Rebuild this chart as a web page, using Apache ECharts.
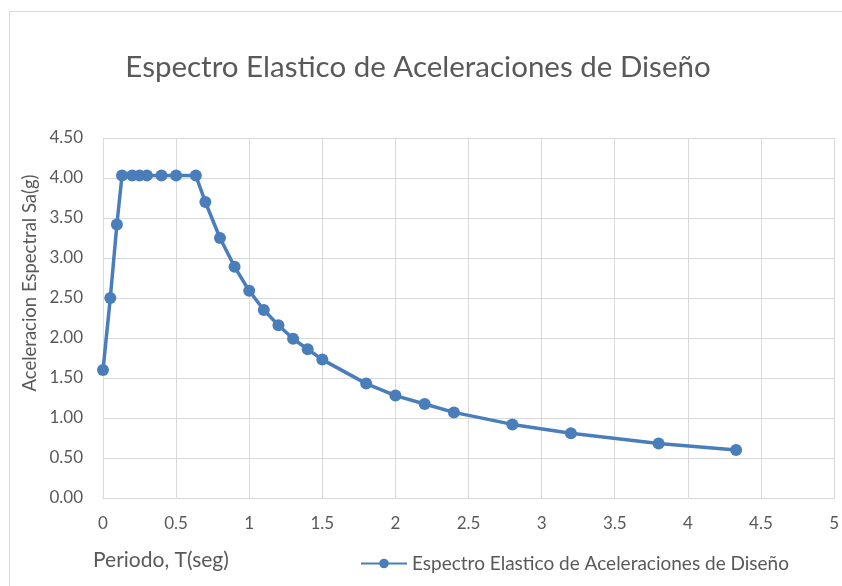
<!DOCTYPE html>
<html>
<head>
<meta charset="utf-8">
<script src="https://cdn.jsdelivr.net/npm/echarts@6/dist/echarts.min.js"></script>
<style>
  html, body { margin: 0; padding: 0; background: #fff; }
  #chart { width: 842px; height: 586px; }
</style>
</head>
<body>
<div id="chart"></div>
<script>
// Periodo T (s) and spectral acceleration Sa (g)
const periods = [0, 0.05, 0.095, 0.13, 0.2, 0.25, 0.3, 0.4, 0.5, 0.635, 0.7, 0.8, 0.9, 1.0, 1.1, 1.2, 1.3, 1.4, 1.5, 1.8, 2.0, 2.2, 2.4, 2.8, 3.2, 3.8, 4.33];
const saValues = [1.60, 2.50, 3.42, 4.03, 4.03, 4.03, 4.03, 4.03, 4.03, 4.03, 3.70, 3.25, 2.89, 2.59, 2.35, 2.16, 1.99, 1.86, 1.73, 1.43, 1.28, 1.175, 1.07, 0.92, 0.81, 0.68, 0.60];
const seriesName = 'Espectro Elastico de Aceleraciones de Diseño';
const chartTitle = 'Espectro Elastico de Aceleraciones de Diseño';
const xTitle = 'Periodo, T(seg)';
const yTitle = 'Aceleracion Espectral Sa(g)';

const FONT = 'Lato, "Open Sans", sans-serif';
const TEXT = '#595959';
const GRID = '#d9d9d9';
const BLUE = '#4a7ebb';

const points = periods.map((t, i) => [t, saValues[i]]);

const chart = echarts.init(document.getElementById('chart'));
chart.setOption({
  animation: false,
  textStyle: { fontFamily: FONT },
  title: {
    text: chartTitle,
    left: 413, top: 47, textAlign: 'center',
    textStyle: { fontFamily: FONT, fontSize: 29.5, fontWeight: 'normal', color: TEXT }
  },
  grid: { left: 103, right: 4, top: 138, bottom: 88, containLabel: false },
  xAxis: {
    type: 'value', min: 0, max: 5, interval: 0.5,
    axisLine: { show: true, lineStyle: { color: GRID, width: 1 } },
    axisTick: { show: false },
    splitLine: { show: true, lineStyle: { color: GRID, width: 1 } },
    axisLabel: { color: TEXT, fontSize: 17, margin: 17, fontFamily: FONT }
  },
  yAxis: {
    type: 'value', min: 0, max: 4.5, interval: 0.5,
    axisLine: { show: false },
    axisTick: { show: false },
    splitLine: { show: true, lineStyle: { color: GRID, width: 1 } },
    axisLabel: { color: TEXT, fontSize: 17, margin: 20, fontFamily: FONT,
      formatter: v => v.toFixed(2) }
  },
  legend: {
    left: 355, top: 549,
    itemWidth: 46, itemHeight: 12, itemGap: 6,
    textStyle: { color: TEXT, fontSize: 19, fontFamily: FONT },
    data: [seriesName]
  },
  graphic: [
    { type: 'rect', left: 7, top: 9, z: -10, silent: true,
      shape: { width: 900, height: 700 },
      style: { fill: 'none', stroke: GRID, lineWidth: 1 } },
    { type: 'text', left: 93, top: 550,
      style: { text: xTitle, fill: TEXT, font: '21px ' + FONT } },
    { type: 'text', x: 30, y: 283, rotation: Math.PI / 2,
      style: { text: yTitle, fill: TEXT, font: '18.5px ' + FONT,
        textAlign: 'center', textVerticalAlign: 'middle' } }
  ],
  series: [{
    name: seriesName,
    type: 'line',
    data: points,
    symbol: 'circle', symbolSize: 12,
    lineStyle: { color: BLUE, width: 3.5 },
    itemStyle: { color: BLUE }
  }]
});
</script>
</body>
</html>
